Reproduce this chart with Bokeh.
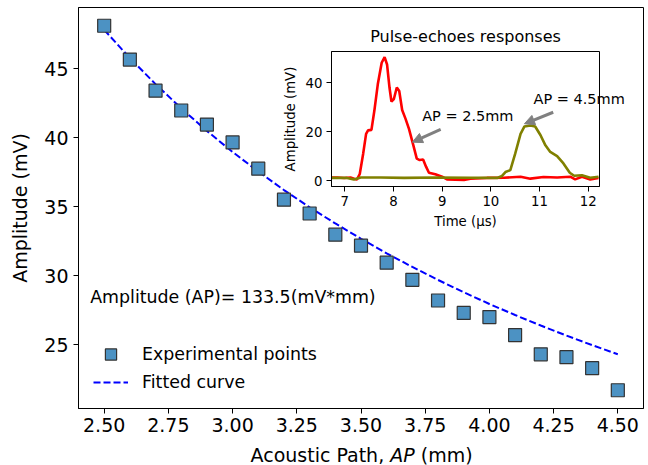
from bokeh.plotting import figure
from bokeh.models import (FixedTicker, Label, Legend, LegendItem, Arrow,
                          NormalHead, Range1d)
from bokeh.layouts import column
from bokeh.embed import file_html
from bokeh.resources import INLINE

# ---------------- data ----------------
ap_mm = [2.5, 2.6, 2.7, 2.8, 2.9, 3.0, 3.1, 3.2, 3.3, 3.4, 3.5,
         3.6, 3.7, 3.8, 3.9, 4.0, 4.1, 4.2, 4.3, 4.4, 4.5]
amp_exp = [48.1, 45.65, 43.4, 41.96, 40.94, 39.65, 37.75, 35.5, 34.5, 32.97, 32.17,
           30.94, 29.7, 28.2, 27.3, 27.0, 25.7, 24.3, 24.1, 23.3, 21.7]
amp_fit = [47.80, 45.76, 43.87, 42.12, 40.48, 38.96, 37.54, 36.20, 34.95, 33.78, 32.67,
           31.62, 30.63, 29.69, 28.80, 27.95, 27.15, 26.39, 25.66, 24.97, 24.31]
x_ticks = [2.5, 2.75, 3.0, 3.25, 3.5, 3.75, 4.0, 4.25, 4.5]
x_tick_labels = ["2.50", "2.75", "3.00", "3.25", "3.50", "3.75", "4.00", "4.25", "4.50"]
y_ticks = [25, 30, 35, 40, 45]

# inset: pulse-echo responses
t_red = [6.71, 6.85, 6.99, 7.12, 7.25, 7.31, 7.38, 7.44, 7.48, 7.55, 7.61, 7.68, 7.76,
         7.82, 7.87, 7.92, 7.96, 8.01, 8.07, 8.12, 8.18, 8.25, 8.32, 8.41, 8.48, 8.54,
         8.61, 8.67, 8.73, 8.86, 9.0, 9.1, 9.45, 9.58, 9.92, 10.27, 10.61, 10.81,
         11.08, 11.36, 11.63, 11.73, 11.87, 12.04, 12.21]
a_red = [1.2, 1.3, 1.1, 1.3, 0.4, 2.7, 11.0, 19.1, 20.5, 20.7, 28.6, 39.3, 48.1,
         50.4, 47.4, 38.0, 32.3, 33.3, 38.0, 36.6, 28.8, 25.2, 21.1, 14.4, 9.0, 8.4,
         8.6, 5.7, 3.2, 2.6, 1.6, 0.5, 0.3, 0.8, 1.1, 1.2, 1.6, 0.8,
         1.5, 1.3, 1.6, 0.5, 1.6, 0.5, 1.1]
t_olive = [6.71, 7.05, 7.19, 7.33, 7.74, 8.22, 8.9, 9.58, 10.13, 10.23, 10.3, 10.4,
           10.5, 10.61, 10.69, 10.81, 10.91, 11.02, 11.12, 11.22, 11.36, 11.49, 11.62,
           11.71, 11.87, 12.04, 12.21]
a_olive = [1.1, 1.1, 0.5, 1.3, 1.3, 1.1, 1.3, 1.2, 1.1, 1.9, 3.5, 4.3,
           11.0, 19.1, 22.1, 22.5, 22.1, 18.5, 14.4, 11.7, 10.0, 7.0, 3.2,
           2.0, 2.2, 1.2, 1.6]
inset_x_ticks = [7, 8, 9, 10, 11, 12]
inset_y_ticks = [0, 20, 40]

FONT = "DejaVu Sans"
# plot borders shared by all stacked plots (the column aligns left/right borders)
BL, BR = 78, 5

# ---------------- main figure ----------------
p = figure(width=648, height=465, x_range=Range1d(2.4, 4.6), y_range=Range1d(20.38, 49.42),
           output_backend="svg", toolbar_location=None,
           min_border_left=BL, min_border_right=BR, min_border_top=7, min_border_bottom=57)
p.title.visible = False
p.xgrid.visible = False
p.ygrid.visible = False
p.outline_line_color = "black"
p.outline_line_alpha = 1
p.outline_line_width = 1

for ax in (p.xaxis[0], p.yaxis[0]):
    ax.major_tick_in = 0
    ax.major_tick_out = 5
    ax.minor_tick_line_color = None
    ax.axis_line_color = "black"
    ax.major_tick_line_color = "black"
    ax.major_label_text_font = FONT
    ax.major_label_text_font_size = "19px"
    ax.major_label_text_color = "black"
    ax.axis_label_text_font = FONT
    ax.axis_label_text_font_size = "19px"
    ax.axis_label_text_font_style = "normal"
    ax.axis_label_text_color = "black"

p.xaxis.ticker = FixedTicker(ticks=x_ticks)
p.xaxis.major_label_overrides = {t: s for t, s in zip(x_ticks, x_tick_labels)}
p.xaxis.major_label_standoff = 4
p.yaxis.ticker = FixedTicker(ticks=y_ticks)
p.yaxis.major_label_standoff = 5
p.yaxis.axis_label = "Amplitude (mV)"
p.yaxis.axis_label_standoff = 10

fit_r = p.line(ap_mm, amp_fit, line_color="blue", line_width=2, line_dash="7 3")
exp_r = p.scatter(ap_mm, amp_exp, marker="square", size=13, fill_color="#4c92c3",
                  line_color="#333333", line_width=1.2)

legend = Legend(items=[LegendItem(label="Experimental points", renderers=[exp_r]),
                       LegendItem(label="Fitted curve", renderers=[fit_r])],
                location=(15, 12), padding=0, margin=0, spacing=0,
                glyph_width=35, glyph_height=28, label_height=20, label_standoff=14,
                label_text_font=FONT, label_text_font_size="17.4px",
                label_text_color="black",
                border_line_alpha=0, background_fill_alpha=0)
p.add_layout(legend, "center")

p.add_layout(Label(x=2.4455, y=28.49, text="Amplitude (AP)= 133.5(mV*mm)",
                   text_font=FONT, text_font_size="17.4px", text_color="black",
                   text_baseline="middle", text_align="left"))

# label of the 4.5 mm echo: it runs past the inset frame, so it lives on the main frame
p.add_layout(Label(x=455, y=309.3, x_units="screen", y_units="screen", text="AP = 4.5mm",
                   text_font=FONT, text_font_size="14.5px", text_color="black",
                   text_baseline="middle", text_align="left"))

# ---------------- x axis title overlay (italic "AP") ----------------
s = figure(width=648, height=27, x_range=Range1d(0, 1), y_range=Range1d(0, 1),
           x_axis_type=None, y_axis_type=None, output_backend="svg",
           toolbar_location=None, min_border_left=BL, min_border_right=BR,
           min_border_top=0, min_border_bottom=0)
s.title.visible = False
s.xgrid.visible = False
s.ygrid.visible = False
s.outline_line_color = None
s.background_fill_alpha = 0
s.border_fill_alpha = 0
s.margin = (-27, 0, 0, 0)
ap_cx = 402.0 - BL
for txt, x, style, align in [("Acoustic Path,", ap_cx - 18.3, "normal", "right"),
                             ("AP", ap_cx, "italic", "center"),
                             ("(mm)", ap_cx + 18.3, "normal", "left")]:
    s.add_layout(Label(x=x, y=11, x_units="screen", y_units="screen",
                       text=txt, text_font=FONT, text_font_size="19px",
                       text_font_style=style, text_color="black",
                       text_baseline="middle", text_align=align))

# ---------------- inset figure ----------------
L, T = 331 - BL, 15
q = figure(frame_width=268, frame_height=135, x_range=Range1d(6.73, 12.23),
           y_range=Range1d(-2.4, 52.7),
           output_backend="svg", toolbar_location=None,
           min_border_left=BL, min_border_right=BR, min_border_top=36, min_border_bottom=46,
           title="Pulse-echoes responses")
q.margin = (T - 465, 0, 0, L)
q.border_fill_alpha = 0
q.background_fill_alpha = 0
q.xgrid.visible = False
q.ygrid.visible = False
q.outline_line_color = "black"
q.outline_line_alpha = 1
q.title.align = "center"
q.title.text_font = FONT
q.title.text_font_size = "16px"
q.title.text_font_style = "normal"
q.title.text_color = "black"
q.title.standoff = 11

for ax in (q.xaxis[0], q.yaxis[0]):
    ax.major_tick_in = 0
    ax.major_tick_out = 5
    ax.minor_tick_line_color = None
    ax.axis_line_color = "black"
    ax.major_tick_line_color = "black"
    ax.major_label_text_font = FONT
    ax.major_label_text_font_size = "13.3px"
    ax.major_label_text_color = "black"
    ax.axis_label_text_font = FONT
    ax.axis_label_text_font_size = "13.3px"
    ax.axis_label_text_font_style = "normal"
    ax.axis_label_text_color = "black"
    ax.major_label_standoff = 4
    ax.axis_label_standoff = 5

q.xaxis.ticker = FixedTicker(ticks=inset_x_ticks)
q.yaxis.ticker = FixedTicker(ticks=inset_y_ticks)
q.xaxis.axis_label = "Time (µs)"
q.yaxis.axis_label = "Amplitude (mV)"

q.line(t_red, a_red, line_color="red", line_width=2.6)
q.line(t_olive, a_olive, line_color="#808000", line_width=2.6)

for (xs, ys, xe, ye) in [(8.97, 20.9, 8.39, 15.7), (11.28, 27.9, 10.69, 23.2)]:
    q.add_layout(Arrow(x_start=xs, y_start=ys, x_end=xe, y_end=ye,
                       line_color="gray", line_width=3,
                       end=NormalHead(size=10, fill_color="gray", line_color="gray")))
q.add_layout(Label(x=8.59, y=26.3, text="AP = 2.5mm", text_font=FONT, text_font_size="14.5px",
                   text_color="black", text_baseline="middle", text_align="left"))

layout = column(p, s, q, spacing=0)
open("out.html", "w").write(file_html(layout, INLINE))
